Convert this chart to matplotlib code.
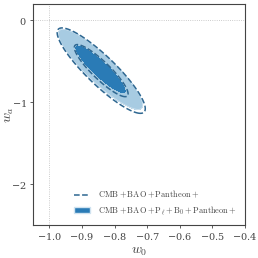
import numpy as np
import matplotlib
matplotlib.use("Agg")
from matplotlib import pyplot as plt
from matplotlib.lines import Line2D
from matplotlib.patches import Patch

plt.rcParams["mathtext.fontset"] = "cm"
plt.rcParams["font.family"] = "serif"
plt.rcParams["font.serif"] = ["DejaVu Serif"]
plt.rcParams["axes.formatter.use_mathtext"] = True

# Gaussian approximations of the two posteriors: means, sigmas, correlation
labels = [r"$\mathrm{CMB + BAO + Pantheon+}$",
          r"$\mathrm{CMB + BAO + P_\ell + B_0 + Pantheon+}$"]
mean_w0 = [-0.841, -0.843]
mean_wa = [-0.613, -0.598]
sig_w0 = [0.0543, 0.0520]
sig_wa = [0.210, 0.197]
rho = [-0.89, -0.89]
levels = [2.30, 6.18]  # 68% and 95% for 2 params

xticks = [-1.0, -0.9, -0.8, -0.7, -0.6, -0.5, -0.4]
yticks = [0, -1, -2]

def chi2(i, X, Y):
    dx = (X - mean_w0[i]) / sig_w0[i]
    dy = (Y - mean_wa[i]) / sig_wa[i]
    r = rho[i]
    return (dx**2 - 2 * r * dx * dy + dy**2) / (1 - r**2)

fig = plt.figure(figsize=(2.58, 2.58), dpi=100)
ax = fig.add_axes([0.128, 0.128, 0.822, 0.856])

x = np.linspace(-1.05, -0.4, 600)
y = np.linspace(-2.5, 0.2, 600)
X, Y = np.meshgrid(x, y)

ax.axvline(-1.0, color="#bbbbbb", lw=0.6, ls=":", zorder=0)
ax.axhline(0.0, color="#bbbbbb", lw=0.6, ls=":", zorder=0)

# filled contours for the combined dataset
c1 = chi2(1, X, Y)
ax.contourf(X, Y, c1, levels=[levels[1] - 1e9, levels[0], levels[1]],
            colors=["#2a7bb6", "#a7cbe2"], zorder=1)
ax.contour(X, Y, c1, levels=[levels[1]], colors=["#d0e3f0"], linewidths=0.6, zorder=2)

# dashed contours for the baseline
c0 = chi2(0, X, Y)
ax.contour(X, Y, c0, levels=levels, colors=["#2e6791"], linewidths=1.1,
           linestyles="--", zorder=3)

ax.set_xlim(-1.05, -0.4)
ax.set_ylim(-2.5, 0.2)
ax.set_xticks(xticks)
ax.set_yticks(yticks)
ax.tick_params(labelsize=7, length=2.5, width=0.6, pad=2, colors="#444444")
for s in ax.spines.values():
    s.set_color("#444444")
    s.set_linewidth(0.8)
ax.set_xlabel(r"$w_0$", fontsize=10, color="#444444", labelpad=1)
ax.set_ylabel(r"$w_a$", fontsize=10, color="#444444")
ax.yaxis.set_label_coords(-0.082, 0.5)

handles = [Line2D([0], [0], color="#2e6791", ls="--", lw=1.1),
           Patch(facecolor="#2a7bb6", edgecolor="#d0e3f0")]
ax.legend(handles, labels, loc="lower right", frameon=False, fontsize=6.0,
          handlelength=2.0, labelspacing=0.4, borderaxespad=0.6,
          handletextpad=0.9, labelcolor="#444444")

fig.savefig("out.png", dpi=100)
